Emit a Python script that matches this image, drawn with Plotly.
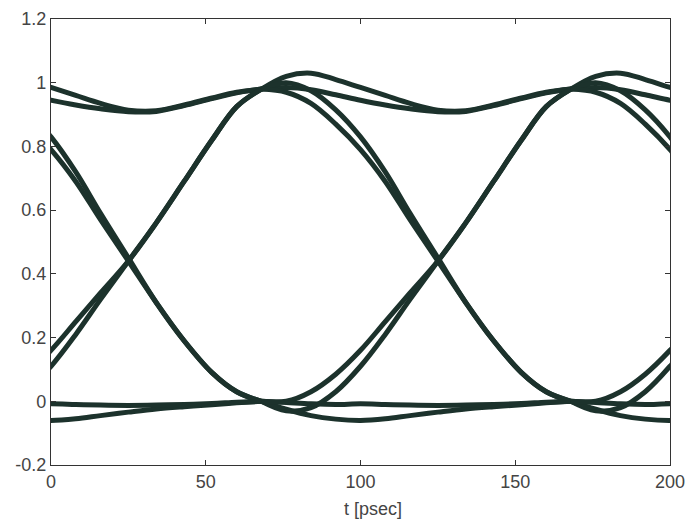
import plotly.graph_objects as go

# Relative time within one bit window (ps after the sampling instant)
TAU = [0, 8, 16, 24, 32, 40, 48, 57, 66, 75, 84, 92, 100]

# Sampling instants (ps) of the windows that fall in the 0..200 ps view
WINDOW_START = [-32, 68, 168]

# Segment shapes (signal level vs TAU)
HH_after_rise = [0.98, 1.02, 1.03, 1.01, 0.985, 0.96, 0.935, 0.914, 0.912, 0.93, 0.952, 0.97, 0.98]
HH_after_hold = [0.98, 0.985, 0.978, 0.962, 0.945, 0.93, 0.918, 0.909, 0.91, 0.928, 0.95, 0.968, 0.98]
HL_after_rise = [0.98, 1.0, 0.975, 0.915, 0.83, 0.72, 0.59, 0.45, 0.31, 0.19, 0.09, 0.03, 0.0]
HL_after_hold = [0.98, 0.97, 0.935, 0.87, 0.79, 0.69, 0.57, 0.44, 0.31, 0.19, 0.09, 0.03, 0.0]
LH_after_fall = [0.0, -0.03, -0.02, 0.03, 0.11, 0.21, 0.32, 0.44, 0.56, 0.69, 0.82, 0.925, 0.98]
LH_after_hold = [0.0, 0.0, 0.03, 0.085, 0.16, 0.25, 0.34, 0.44, 0.56, 0.69, 0.82, 0.925, 0.98]
LL_after_fall = [0.0, -0.025, -0.045, -0.056, -0.06, -0.055, -0.045, -0.034, -0.024, -0.017, -0.011, -0.005, 0.0]
LL_after_hold = [0.0, -0.004, -0.008, -0.01, -0.008, -0.01, -0.012, -0.013, -0.012, -0.01, -0.007, -0.003, 0.0]

SEGMENTS = [HH_after_rise, HH_after_hold, HL_after_rise, HL_after_hold,
            LH_after_fall, LH_after_hold, LL_after_fall, LL_after_hold]

X_TICKS = [0, 50, 100, 150, 200]
Y_TICKS = [-0.2, 0, 0.2, 0.4, 0.6, 0.8, 1, 1.2]
Y_TICK_TEXT = ["-0.2", "0", "0.2", "0.4", "0.6", "0.8", "1", "1.2"]
X_LABEL = "t [psec]"

LINE_COLOR = "rgb(28,50,44)"
AXIS_COLOR = "#333333"
FONT = "Liberation Sans, Arial, sans-serif"

fig = go.Figure()
for s in WINDOW_START:
    for seg in SEGMENTS:
        fig.add_trace(go.Scatter(
            x=[s + t for t in TAU], y=seg, mode="lines",
            line=dict(color=LINE_COLOR, width=5, shape="spline", smoothing=1.0),
            hoverinfo="skip", showlegend=False,
        ))

fig.update_layout(
    width=690, height=524,
    margin=dict(l=51, r=20, t=19, b=59),
    paper_bgcolor="white", plot_bgcolor="white",
    font=dict(family=FONT, size=18, color="#444444"),
    showlegend=False,
)
fig.update_xaxes(
    range=[0, 200], tickvals=X_TICKS, ticks="inside", ticklen=5,
    tickcolor=AXIS_COLOR, showline=True, linecolor=AXIS_COLOR, linewidth=1.2,
    mirror="allticks", showgrid=False, zeroline=False, automargin=False,
    tickfont=dict(family=FONT, size=18, color="#444444"),
)
fig.update_yaxes(
    range=[-0.2, 1.2], tickvals=Y_TICKS, ticktext=Y_TICK_TEXT, ticks="inside",
    ticklen=5, tickcolor=AXIS_COLOR, showline=True, linecolor=AXIS_COLOR,
    linewidth=1.2, mirror="allticks", showgrid=False, zeroline=False,
    automargin=False,
    tickfont=dict(family=FONT, size=18, color="#444444"),
)
fig.add_annotation(
    text=X_LABEL, xref="paper", yref="paper", x=0.52, y=-0.099,
    xanchor="center", yanchor="middle", showarrow=False,
    font=dict(family=FONT, size=18, color="#444444"),
)

fig.write_html("out.html")
